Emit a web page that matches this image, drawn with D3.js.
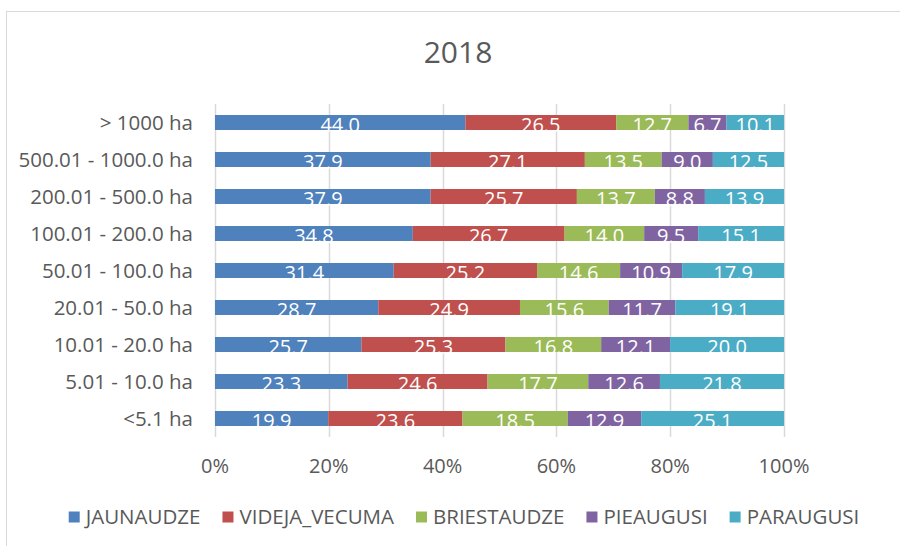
<!DOCTYPE html>
<html>
<head>
<meta charset="utf-8">
<script src="https://cdn.jsdelivr.net/npm/d3@7"></script>
<style>
  body { margin: 0; background: #fff; }
  svg { display: block; font-family: "Open Sans", "Noto Sans", sans-serif; }
</style>
</head>
<body>
<div id="chart"></div>
<script>
// Data
const categories = ['> 1000 ha', '500.01 - 1000.0 ha', '200.01 - 500.0 ha', '100.01 - 200.0 ha',
    '50.01 - 100.0 ha', '20.01 - 50.0 ha', '10.01 - 20.0 ha', '5.01 - 10.0 ha', '<5.1 ha'];
const seriesNames = ['JAUNAUDZE', 'VIDEJA_VECUMA', 'BRIESTAUDZE', 'PIEAUGUSI', 'PARAUGUSI'];
const jaunaudze    = [44.0, 37.9, 37.9, 34.8, 31.4, 28.7, 25.7, 23.3, 19.9];
const videjaVecuma = [26.5, 27.1, 25.7, 26.7, 25.2, 24.9, 25.3, 24.6, 23.6];
const briestaudze  = [12.7, 13.5, 13.7, 14.0, 14.6, 15.6, 16.8, 17.7, 18.5];
const pieaugusi    = [6.7, 9.0, 8.8, 9.5, 10.9, 11.7, 12.1, 12.6, 12.9];
const paraugusi    = [10.1, 12.5, 13.9, 15.1, 17.9, 19.1, 20.0, 21.8, 25.1];
const tickValues = [0, 20, 40, 60, 80, 100];
const colors = ['#4F81BD', '#C0504D', '#9BBB59', '#8064A2', '#4BACC6'];

const seriesValues = [jaunaudze, videjaVecuma, briestaudze, pieaugusi, paraugusi];

const width = 900, height = 546;
const textColor = '#595959';
const gridColor = '#d9d9d9';

const svg = d3.select('#chart').append('svg')
    .attr('width', width)
    .attr('height', height);

// chart frame
svg.append('rect')
    .attr('x', 6.5).attr('y', 11.5)
    .attr('width', 1000).attr('height', 1000)
    .attr('fill', '#fff')
    .attr('stroke', gridColor);

// title
svg.append('text')
    .attr('x', 458).attr('y', 52)
    .attr('dy', '0.36em')
    .attr('text-anchor', 'middle')
    .attr('fill', textColor)
    .style('font-size', '30px')
    .text('2018');

// rows for stacking
const rows = categories.map((c, i) => {
    const r = { category: c };
    seriesNames.forEach((s, j) => { r[s] = seriesValues[j][i]; });
    return r;
});

const stack = d3.stack().keys(seriesNames).offset(d3.stackOffsetExpand);
const stacked = stack(rows);

const x = d3.scaleLinear().domain([0, 1]).range([215, 784]);
const y = d3.scaleBand().domain(categories).range([104, 437]).paddingInner(0.595).paddingOuter(0.2975);

// gridlines
svg.append('g')
    .selectAll('line')
    .data(tickValues)
    .join('line')
    .attr('x1', d => Math.round(x(d / 100)) + 0.5)
    .attr('x2', d => Math.round(x(d / 100)) + 0.5)
    .attr('y1', 104).attr('y2', 437)
    .attr('stroke', gridColor)
    .attr('stroke-width', 1.5);

// tick labels
svg.append('g')
    .selectAll('text')
    .data(tickValues)
    .join('text')
    .attr('x', d => x(d / 100))
    .attr('y', 466)
    .attr('dy', '0.36em')
    .attr('text-anchor', 'middle')
    .attr('fill', textColor)
    .style('font-size', '20px')
    .text(d => d + '%');

// category labels
svg.append('g')
    .selectAll('text')
    .data(categories)
    .join('text')
    .attr('x', 193)
    .attr('y', d => y(d) + y.bandwidth() / 2)
    .attr('dy', '0.36em')
    .attr('text-anchor', 'end')
    .attr('fill', textColor)
    .style('font-size', '20.5px')
    .text(d => d);

// bars
const layers = svg.append('g')
    .selectAll('g')
    .data(stacked)
    .join('g')
    .attr('fill', (d, i) => colors[i]);

layers.selectAll('rect')
    .data(d => d)
    .join('rect')
    .attr('x', d => x(d[0]))
    .attr('width', d => x(d[1]) - x(d[0]))
    .attr('y', d => y(d.data.category))
    .attr('height', y.bandwidth());

// data labels
layers.selectAll('text')
    .data((d, i) => d.map(v => ({ v, key: d.key })))
    .join('text')
    .attr('x', d => (x(d.v[0]) + x(d.v[1])) / 2)
    .attr('y', d => y(d.v.data.category) + y.bandwidth() / 2 + 2.5)
    .attr('dy', '0.36em')
    .attr('text-anchor', 'middle')
    .attr('fill', '#fff')
    .style('font-size', '20px')
    .text(d => d.v.data[d.key].toFixed(1));

// legend
const legend = svg.append('g');
const items = legend.selectAll('g')
    .data(seriesNames)
    .join('g');

items.append('rect')
    .attr('width', 11).attr('height', 11)
    .attr('y', -5.5)
    .attr('fill', (d, i) => colors[i]);

items.append('text')
    .attr('x', 17)
    .attr('dy', '0.36em')
    .attr('fill', textColor)
    .style('font-size', '20.5px')
    .text(d => d);

let cursor = 0;
const offsets = [];
items.each(function () {
    offsets.push(cursor);
    const w = d3.select(this).select('text').node().getComputedTextLength();
    cursor += 17 + w + 22;
});
const totalW = cursor - 22;
const legendStart = 464 - totalW / 2;
items.attr('transform', (d, i) => `translate(${legendStart + offsets[i]},517)`);
</script>
</body>
</html>
